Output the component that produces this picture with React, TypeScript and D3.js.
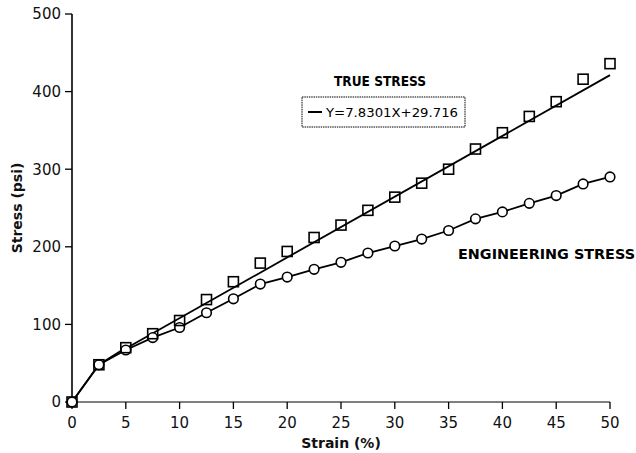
import React from "react";
import * as d3 from "d3";

const strain = [0, 2.5, 5, 7.5, 10, 12.5, 15, 17.5, 20, 22.5, 25, 27.5, 30, 32.5, 35, 37.5, 40, 42.5, 45, 47.5, 50];
const trueStress = [0, 48, 70, 88, 105, 132, 155, 179, 194, 212, 228, 247, 264, 282, 300, 326, 347, 368, 387, 416, 436];
const engStress = [0, 48, 67, 83, 96, 115, 133, 152, 161, 171, 180, 192, 201, 210, 221, 236, 245, 256, 266, 281, 290];
const fitSlope = 7.8301;
const fitIntercept = 29.716;
const xTicks = [0, 5, 10, 15, 20, 25, 30, 35, 40, 45, 50];
const yTicks = [0, 100, 200, 300, 400, 500];

const W = 636;
const H = 453;
const FONT = "DejaVu Sans";

export default function App() {
  const x = d3.scaleLinear().domain([0, 50]).range([72, 610]);
  const y = d3.scaleLinear().domain([0, 500]).range([402, 14]);

  const engLine = d3
    .line<number>()
    .x((_, i) => x(strain[i]))
    .y((d) => y(d))(engStress) as string;

  const trueStart = d3
    .line<number>()
    .x((_, i) => x(strain[i]))
    .y((d) => y(d))(trueStress.slice(0, 3)) as string;

  const fitX0 = 5;
  const fitX1 = 50;

  return (
    <div style={{ position: "absolute", left: 0, top: 0, width: W, height: H, overflow: "hidden" }}>
      <svg width={W} height={H} style={{ display: "block", background: "#fff" }}>
        {/* axes */}
        <line x1={x(0)} x2={x(0)} y1={y(500)} y2={y(0)} stroke="#000" strokeWidth={1.6} />
        <line x1={x(0)} x2={x(50)} y1={y(0)} y2={y(0)} stroke="#000" strokeWidth={1} />
        {yTicks.map((t) => (
          <g key={"y" + t}>
            <line x1={x(0) - 7} x2={x(0)} y1={y(t)} y2={y(t)} stroke="#000" strokeWidth={1.3} />
            <text
              x={x(0) - 11}
              y={y(t)}
              dy="0.36em"
              textAnchor="end"
              fontFamily={FONT}
              fontSize={15}
              fill="#111"
            >
              {t}
            </text>
          </g>
        ))}
        {xTicks.map((t) => (
          <g key={"x" + t}>
            <line x1={x(t)} x2={x(t)} y1={y(0)} y2={y(0) + 7} stroke="#000" strokeWidth={1.3} />
            <text
              x={x(t)}
              y={428}
              textAnchor="middle"
              fontFamily={FONT}
              fontSize={15}
              fill="#111"
            >
              {t}
            </text>
          </g>
        ))}
        <text
          transform={`translate(22,${208}) rotate(-90)`}
          textAnchor="middle"
          fontFamily={FONT}
          fontSize={14}
          fontWeight="bold"
          fill="#111"
        >
          Stress (psi)
        </text>
        <text x={341} y={448} textAnchor="middle" fontFamily={FONT} fontSize={14} fontWeight="bold" fill="#111">
          Strain (%)
        </text>

        {/* lines */}
        <path d={engLine} fill="none" stroke="#000" strokeWidth={1.8} />
        <path d={trueStart} fill="none" stroke="#000" strokeWidth={1.8} />
        <line
          x1={x(fitX0)}
          y1={y(fitSlope * fitX0 + fitIntercept)}
          x2={x(fitX1)}
          y2={y(fitSlope * fitX1 + fitIntercept)}
          stroke="#000"
          strokeWidth={1.8}
        />

        {/* markers */}
        {engStress.map((v, i) => (
          <circle key={"c" + i} cx={x(strain[i])} cy={y(v)} r={4.8} fill="#fff" stroke="#000" strokeWidth={1.6} />
        ))}
        {trueStress.map((v, i) => (
          <rect
            key={"s" + i}
            x={x(strain[i]) - 5}
            y={y(v) - 5}
            width={10}
            height={10}
            fill="none"
            stroke="#000"
            strokeWidth={1.6}
          />
        ))}

        {/* annotations */}
        <text x={380} y={86} textAnchor="middle" fontFamily={FONT} fontSize={14} fontWeight="bold" fill="#000" textLength={92} lengthAdjust="spacingAndGlyphs">
          TRUE STRESS
        </text>
        <rect x={302} y={97} width={163} height={30} fill="none" stroke="#000" strokeWidth={1} strokeDasharray="1.5 0.8" />
        <line x1={308} x2={322} y1={112} y2={112} stroke="#000" strokeWidth={2} />
        <text x={326} y={117} fontFamily={FONT} fontSize={13} fill="#000" textLength={132} lengthAdjust="spacingAndGlyphs">
          Y=7.8301X+29.716
        </text>
        <text x={458} y={259} fontFamily={FONT} fontSize={14} fontWeight="bold" fill="#000" textLength={177} lengthAdjust="spacingAndGlyphs">
          ENGINEERING STRESS
        </text>
      </svg>
    </div>
  );
}
